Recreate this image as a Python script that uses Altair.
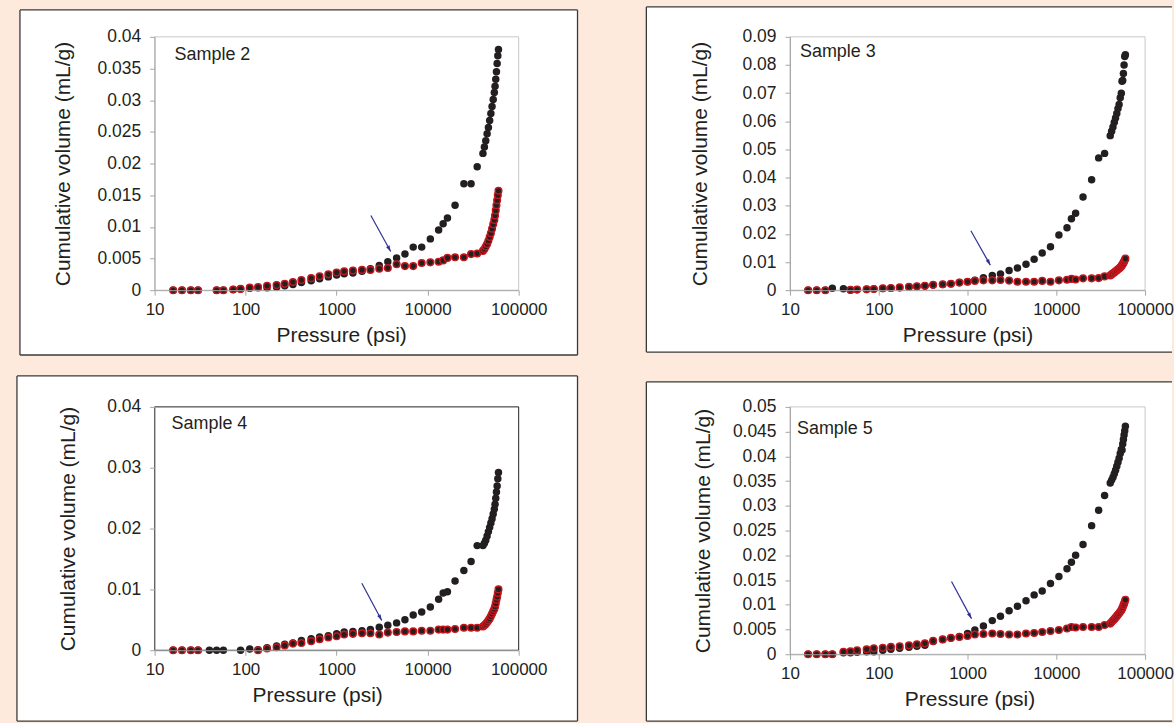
import altair as alt
import pandas as pd

# ---------------- data ----------------
P_BASE = [16, 20, 25, 30, 40, 48, 57, 73, 88, 111, 137, 172, 219, 269, 331, 410, 525, 650,
          810, 1000, 1210, 1510, 1900, 2350, 2940, 3650, 4560, 5630, 6940, 8600, 10700,
          13200, 14800, 16500, 20000, 25000, 30000, 35000]
P_DENSE = [40500, 42000, 43500, 45000, 46500, 48000, 49500, 51000, 52500, 54000, 55000,
           56000, 57000, 58000, 59000, 60000]
PRESSURE = P_BASE + P_DENSE

# Sample 2
S2_BLACK = [0, 0, 0, 0, None, 0, 0, 0.0001, 0.0002, 0.0003, 0.0004, 0.0004, 0.0005, 0.0007,
            0.0009, 0.0012, 0.0015, 0.0018, 0.0021, 0.0024, 0.0026, 0.0027, 0.0030, 0.0034,
            0.0039, 0.0045, 0.0051, 0.0057, 0.0068, 0.0068, 0.0081, 0.0095, 0.0105, 0.0114,
            0.0134, 0.0168, 0.0168, 0.0195,
            0.0216, 0.0226, 0.0236, 0.0247, 0.0257, 0.0268, 0.0279, 0.0290, 0.0301, 0.0312,
            0.0322, 0.0333, 0.0345, 0.0358, 0.0370, 0.0380]
S2_RED = [0, 0, 0, 0, None, 0, 0, 0.0001, 0.0002, 0.0004, 0.0005, 0.0007, 0.0008, 0.0010,
          0.0013, 0.0016, 0.0019, 0.0022, 0.0025, 0.0028, 0.0030, 0.0031, 0.0032, 0.0032,
          0.0034, 0.0035, 0.0041, 0.0038, 0.0038, 0.0043, 0.0044, 0.0045, 0.0047, 0.0051,
          0.0052, 0.0052, 0.0057, 0.0058,
          0.0062, 0.0065, 0.0069, 0.0073, 0.0078, 0.0084, 0.0090, 0.0097, 0.0104, 0.0111,
          0.0118, 0.0126, 0.0134, 0.0142, 0.0150, 0.0157]

# Sample 3
S3_BLACK = [0, 0, 0, 0.0007, 0.0005, 0.0001, 0.0002, 0.0003, 0.0004, 0.0006, 0.0007, 0.0009,
            0.0011, 0.0013, 0.0015, 0.0018, 0.0020, 0.0023, 0.0027, 0.0030, 0.0035, 0.0044,
            0.0052, 0.0058, 0.0070, 0.0079, 0.0092, 0.0110, 0.0132, 0.0154, 0.0196, 0.0222,
            0.0254, 0.0273, 0.0331, 0.0392, 0.0470, 0.0486,
            0.0549, 0.0565, 0.0580, 0.0597, 0.0612, 0.0628, 0.0645, 0.0660, 0.0684, 0.0700,
            0.0742, 0.0745, 0.0770, 0.0800, 0.0830, 0.0836]
S3_RED = [0, 0, 0, None, None, 0.0001, 0.0002, 0.0003, 0.0004, 0.0007, 0.0008, 0.0010,
          0.0012, 0.0014, 0.0016, 0.0019, 0.0021, 0.0023, 0.0027, 0.0030, 0.0033, 0.0035,
          0.0035, 0.0036, 0.0034, 0.0030, 0.0030, 0.0030, 0.0033, 0.0030, 0.0035, 0.0037,
          0.0040, 0.0038, 0.0042, 0.0042, 0.0043, 0.0049,
          0.0052, 0.0056, 0.0060, 0.0063, 0.0067, 0.0070, 0.0074, 0.0077, 0.0081, 0.0085,
          0.0089, 0.0093, 0.0097, 0.0102, 0.0107, 0.0112]

# Sample 4
S4_BLACK = [0, 0, 0, 0, 0, 0, 0, None, 0, 0.0002, 0.0001, 0.0004, 0.0007, 0.0010, 0.0012,
            0.0016, 0.0019, 0.0022, 0.0024, 0.0027, 0.0030, 0.0031, 0.0032, 0.0034, 0.0038,
            0.0041, 0.0045, 0.0050, 0.0058, 0.0063, 0.0071, 0.0084, 0.0094, 0.0096, 0.0114,
            0.0131, 0.0146, 0.0172,
            0.0172, 0.0176, 0.0181, 0.0188, 0.0195, 0.0202, 0.0209, 0.0216, 0.0224, 0.0232,
            0.0240, 0.0250, 0.0260, 0.0270, 0.0282, 0.0292]
S4_RED = [0, 0, 0, 0, None, None, None, None, None, None, 0.0000, 0.0003, 0.0005, 0.0008,
          0.0011, 0.0012, 0.0015, 0.0018, 0.0021, 0.0023, 0.0026, 0.0027, 0.0028, 0.0028,
          0.0026, 0.0029, 0.0030, 0.0031, 0.0031, 0.0032, 0.0032, 0.0034, 0.0034, 0.0034,
          0.0035, 0.0037, 0.0037, 0.0037,
          0.0039, 0.0041, 0.0043, 0.0046, 0.0049, 0.0052, 0.0056, 0.0060, 0.0064, 0.0068,
          0.0072, 0.0077, 0.0083, 0.0088, 0.0094, 0.0100]

# Sample 5
S5_BLACK = [0, 0, 0, 0, 0.0003, 0.0003, 0.0004, 0.0005, 0.0005, 0.0008, 0.0010, 0.0012,
            0.0014, 0.0016, 0.0018, 0.0026, 0.0030, 0.0033, 0.0036, 0.0042, 0.0049, 0.0057,
            0.0068, 0.0077, 0.0088, 0.0097, 0.0108, 0.0120, 0.0128, 0.0143, 0.0157, 0.0173,
            0.0186, 0.0200, 0.0222, 0.0260, 0.0291, 0.0321,
            0.0346, 0.0352, 0.0358, 0.0365, 0.0372, 0.0380, 0.0388, 0.0396, 0.0406, 0.0414,
            0.0413, 0.0425, 0.0434, 0.0443, 0.0452, 0.0461]
S5_RED = [0, 0, 0, 0, 0.0005, 0.0006, 0.0008, 0.0010, 0.0012, 0.0013, 0.0015, 0.0016,
          0.0018, 0.0020, 0.0022, 0.0027, 0.0030, 0.0033, 0.0035, 0.0037, 0.0040, 0.0041,
          0.0042, 0.0041, 0.0040, 0.0040, 0.0042, 0.0043, 0.0045, 0.0047, 0.0049, 0.0052,
          0.0055, 0.0054, 0.0055, 0.0055, 0.0055, 0.0059,
          0.0062, 0.0065, 0.0068, 0.0071, 0.0074, 0.0077, 0.0080, 0.0083, 0.0086, 0.0089,
          0.0092, 0.0095, 0.0099, 0.0102, 0.0106, 0.0110]

# arrows: [start, end] in data units
ARROW_P = {"Sample 2": [2377, 3926], "Sample 3": [1091, 1806],
           "Sample 4": [1891, 3131], "Sample 5": [660, 1109]}
ARROW_V = {"Sample 2": [0.0118, 0.0061], "Sample 3": [0.0211, 0.0089],
           "Sample 4": [0.0110, 0.0049], "Sample 5": [0.0147, 0.0072]}

X_TICKS = [10, 100, 1000, 10000, 100000]
Y_TICKS_2 = [0, 0.005, 0.01, 0.015, 0.02, 0.025, 0.03, 0.035, 0.04]
Y_TICKS_3 = [0, 0.01, 0.02, 0.03, 0.04, 0.05, 0.06, 0.07, 0.08, 0.09]
Y_TICKS_4 = [0, 0.01, 0.02, 0.03, 0.04]
Y_TICKS_5 = [0, 0.005, 0.01, 0.015, 0.02, 0.025, 0.03, 0.035, 0.04, 0.045, 0.05]

# ---------------- style ----------------
FONT = "Liberation Sans"
TXT = "#231f20"
DOT = "#231f20"
RED = "#c4161c"
BLUE = "#2e3192"
FRAME = "#3a3a3a"
BG = "#fdeadc"


def panel(name, black, red, yticks, w, h, frame, closed_right, border, title_x, ytitle_x, label_xy):
    bdf = pd.DataFrame({"pressure": PRESSURE, "volume": black}).dropna()
    rdf = pd.DataFrame({"pressure": PRESSURE, "volume": red}).dropna()
    adf = pd.DataFrame({"pressure": [ARROW_P[name][0]], "volume": [ARROW_V[name][0]],
                        "pressure2": [ARROW_P[name][1]], "volume2": [ARROW_V[name][1]]})
    fdf = pd.DataFrame({"label": [name]})

    xs = alt.Scale(type="log", domain=[10, 100000], nice=False)
    ys = alt.Scale(domain=[0, yticks[-1]], nice=False, zero=True)
    xaxis = alt.Axis(values=X_TICKS, format="d", grid=False, tickSize=5, tickColor="#a6a6a6",
                     domainColor="#a6a6a6", labelFontSize=17, labelPadding=6, labelFont=FONT,
                     labelColor=TXT, titleFontSize=21, titleFont=FONT, titleColor=TXT,
                     titleFontWeight="normal", titleX=title_x, titleY=45,
                     titleBaseline="middle", labelFlush=False, labelOverlap=False, zindex=1)
    yaxis = alt.Axis(values=yticks, format=".3~f", grid=False, tickSize=5, tickColor="#a6a6a6",
                     domainColor="#a6a6a6", labelFontSize=17.5, labelPadding=9, labelFont=FONT,
                     labelColor=TXT, titleFontSize=21, titleFont=FONT, titleColor=TXT,
                     titleFontWeight="normal", titleX=ytitle_x, titleY=h / 2,
                     titleBaseline="middle", labelFlush=False, labelOverlap=False, zindex=1)
    X = alt.X("pressure:Q", scale=xs, axis=xaxis, title="Pressure (psi)")
    Y = alt.Y("volume:Q", scale=ys, axis=yaxis, title="Cumulative volume (mL/g)")
    X2h = alt.X("pressure2:Q", scale=xs, axis=xaxis, title="Pressure (psi)")
    Y2h = alt.Y("volume2:Q", scale=ys, axis=yaxis, title="Cumulative volume (mL/g)")

    L, T, R, B = frame
    base = alt.Chart(fdf)
    layers = [
        base.mark_rect(fill="white", strokeWidth=0).encode(
            x=alt.value(L), x2=alt.value(R), y=alt.value(T), y2=alt.value(B)),
        base.mark_rule(color=FRAME, strokeWidth=1.3).encode(
            x=alt.value(L), y=alt.value(T), y2=alt.value(B)),
        base.mark_rule(color=FRAME, strokeWidth=1.3).encode(
            x=alt.value(L), x2=alt.value(R), y=alt.value(T)),
        base.mark_rule(color=FRAME, strokeWidth=1.3).encode(
            x=alt.value(L), x2=alt.value(R), y=alt.value(B)),
    ]
    if closed_right:
        layers.append(base.mark_rule(color=FRAME, strokeWidth=1.3).encode(
            x=alt.value(R), y=alt.value(T), y2=alt.value(B)))
    layers += [
        base.mark_rect(filled=False, stroke=border, strokeWidth=1).encode(
            x=alt.value(0), x2=alt.value(w), y=alt.value(0), y2=alt.value(h)),
        alt.Chart(bdf).mark_circle(size=56, fill=DOT, opacity=1, strokeWidth=0).encode(x=X, y=Y),
        alt.Chart(rdf).mark_circle(size=44, fill=DOT, stroke=RED, strokeWidth=1.5,
                                   opacity=1).encode(x=X, y=Y),
        alt.Chart(adf).mark_rule(color=BLUE, strokeWidth=1.2).encode(
            x=X, y=Y, x2="pressure2:Q", y2="volume2:Q"),
        alt.Chart(adf).mark_point(shape="M0,0L0.7,2.2L-0.7,2.2Z", filled=True, fill=BLUE,
                                  size=30, angle=151, opacity=1, strokeWidth=0).encode(x=X2h, y=Y2h),
        base.mark_text(align="left", baseline="middle", fontSize=18, font=FONT, color=TXT).encode(
            text="label:N", x=alt.value(label_xy[0]), y=alt.value(label_xy[1])),
    ]
    return alt.layer(*layers).properties(width=w, height=h)


p1 = panel("Sample 2", S2_BLACK, S2_RED, Y_TICKS_2, 365, 254, (-135, -27, 424, 319), True,
           "#c8c8c8", 187, -91, (20, 18))
p2 = panel("Sample 3", S3_BLACK, S3_RED, Y_TICKS_3, 356, 254, (-144, -30, 383, 316), False,
           "#c8c8c8", 178, -90, (10, 15))
p3 = panel("Sample 4", S4_BLACK, S4_RED, Y_TICKS_4, 365, 244, (-138, -31, 424, 315), True,
           "#222222", 163, -86, (17, 17))
p4 = panel("Sample 5", S5_BLACK, S5_RED, Y_TICKS_5, 356, 248, (-144, -25, 383, 315), False,
           "#c8c8c8", 180, -87, (7, 22))

chart = alt.concat(p1, p2, p3, p4, columns=2, spacing=alt.RowColnumber(row=117, column=272),
                   bounds="flush", align="each").properties(
    background=BG, padding={"left": 15, "top": 4, "right": 0, "bottom": 3}
).configure_view(strokeWidth=0).configure(font=FONT)

chart.save("out.html", embed_options={"renderer": "svg", "actions": False})
